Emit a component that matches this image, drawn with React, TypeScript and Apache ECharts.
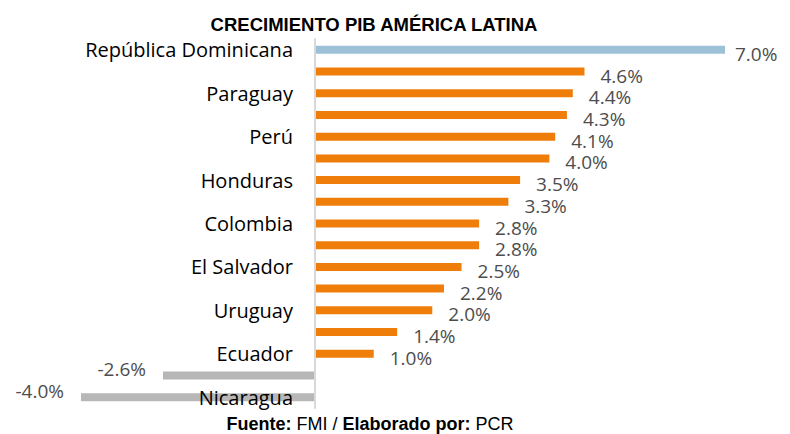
import React, { useEffect, useRef } from "react";
import * as echarts from "echarts";

const categories = [
  "República Dominicana", "Panamá", "Paraguay", "Bolivia", "Perú", "Guatemala",
  "Honduras", "Costa Rica", "Colombia", "Chile", "El Salvador", "Brasil",
  "Uruguay", "México", "Ecuador", "Argentina", "Nicaragua",
];
const values = [7.0, 4.6, 4.4, 4.3, 4.1, 4.0, 3.5, 3.3, 2.8, 2.8, 2.5, 2.2, 2.0, 1.4, 1.0, -2.6, -4.0];
const titleText = "CRECIMIENTO PIB AMÉRICA LATINA";

export default function App() {
  const ref = useRef<HTMLDivElement>(null);
  useEffect(() => {
    const chart = echarts.init(ref.current!, undefined, { renderer: "svg" });
    const data = values.map((v, i) => ({
      value: v,
      itemStyle: { color: i === 0 ? "#9cc0d6" : v < 0 ? "#b7b7b7" : "#ef7d0a" },
      label:
        v < 0
          ? { position: "left", distance: 17, offset: [0, -6] }
          : i === 0
          ? { distance: 10 }
          : undefined,
    }));
    chart.setOption({
      animation: false,
      backgroundColor: "#ffffff",
      title: {
        text: titleText,
        left: 369,
        textAlign: "center",
        top: 10,
        textStyle: { fontFamily: "Liberation Sans", fontWeight: "bold", fontSize: 18.5, color: "#000" },
      },
      graphic: [
        {
          type: "text",
          x: 370,
          y: 415,
          z: 100,
          style: {
            text: "{b|Fuente:}{a| FMI / }{b|Elaborado por:}{a| PCR}",
            align: "center",
            verticalAlign: "top",
            rich: {
              b: { fontWeight: "bold", fontFamily: "Liberation Sans", fontSize: 18, lineHeight: 18, fill: "#000" },
              a: { fontFamily: "Liberation Sans", fontSize: 18, lineHeight: 18, fill: "#000" },
            },
          },
        },
      ],
      grid: { left: 81, right: 65, top: 39, bottom: 26, containLabel: false, outerBoundsMode: "none" },
      xAxis: {
        type: "value",
        min: -4,
        max: 7,
        show: false,
      },
      yAxis: {
        type: "category",
        data: categories,
        inverse: true,
        z: 10,
        axisTick: { show: false },
        axisLine: { onZero: true, lineStyle: { color: "#d9d9d9", width: 2 } },
        axisLabel: {
          interval: 1,
          margin: -212,
          align: "right",
          fontFamily: "Open Sans",
          fontSize: 20,
          color: "#000",
        },
        splitLine: { show: false },
      },
      series: [
        {
          type: "bar",
          data,
          barWidth: 8,
          z: 2,
          label: {
            show: true,
            position: "right",
            distance: 16,
            offset: [0, 4],
            formatter: (p: any) => p.value.toFixed(1) + "%",
            fontFamily: "Open Sans",
            fontSize: 19,
            lineHeight: 19,
            color: "#4d4d4d",
          },
        },
      ],
    });
    return () => chart.dispose();
  }, []);
  return (
    <div
      ref={ref}
      style={{ position: "absolute", left: 0, top: 0, width: 790, height: 434 }}
    />
  );
}
